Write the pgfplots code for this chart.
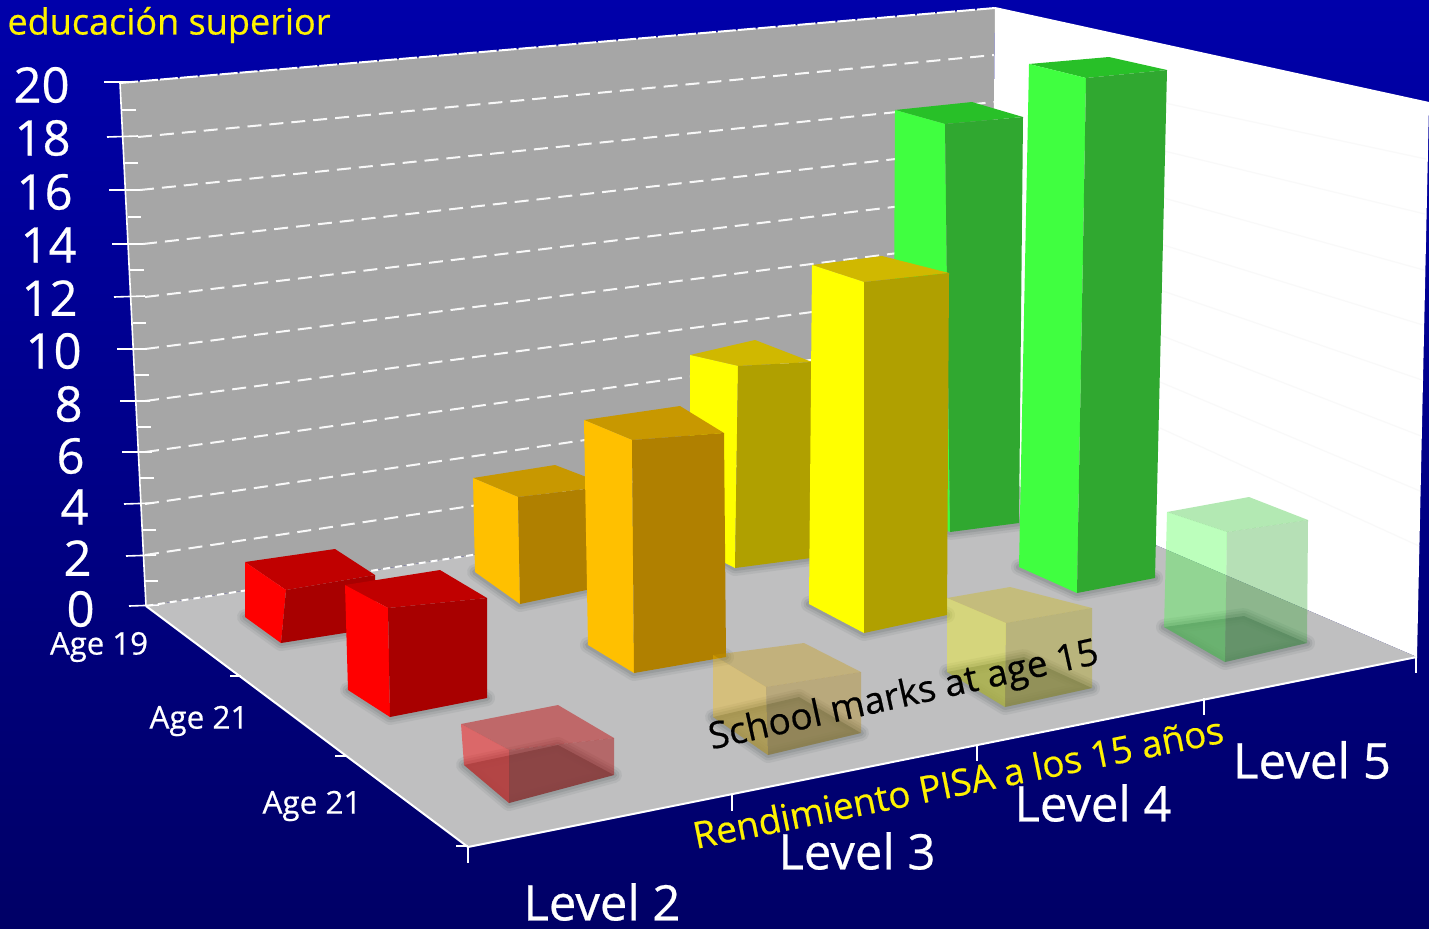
\documentclass[border=0pt]{standalone}
\usepackage{fontspec}
\setmainfont[FakeBold=0.5]{Open Sans}
\usepackage{graphicx}
\usepackage{pgfplots}
\pgfplotsset{compat=1.18}
\definecolor{bgT}{HTML}{0000AA}
\definecolor{bgM}{HTML}{0000BE}
\definecolor{bgB}{HTML}{000066}
\definecolor{wallc}{HTML}{A6A6A6}
\definecolor{floorc}{HTML}{BFBFC0}
\definecolor{shc}{HTML}{6E7878}
\definecolor{rL}{HTML}{FF0000}\definecolor{rR}{HTML}{A80000}\definecolor{rT}{HTML}{C00000}
\definecolor{oL}{HTML}{FFC000}\definecolor{oR}{HTML}{B08000}\definecolor{oT}{HTML}{C89800}
\definecolor{yL}{HTML}{FFFF00}\definecolor{yR}{HTML}{B0A000}\definecolor{yT}{HTML}{D0B800}
\definecolor{gL}{HTML}{40FF40}\definecolor{gR}{HTML}{30A830}\definecolor{gT}{HTML}{28C028}
% one quadrilateral of the drawing, in picture coordinates
\newcommand\face[6]{\addplot[fill=#1,draw=none,fill opacity=#2] coordinates {(#3)(#4)(#5)(#6)} --cycle;}
\newcommand\seg[5][]{\addplot[draw=#2,line width=#3,#1] coordinates {(#4)(#5)};}
% soft shadow round the foot of a bar
\newcommand\shadow[4]{%
  \addplot[draw=shc,line width=8pt,line join=round,draw opacity=.13] coordinates {(#1)(#2)(#3)(#4)} --cycle;
  \addplot[draw=shc,line width=5.5pt,line join=round,draw opacity=.18] coordinates {(#1)(#2)(#3)(#4)} --cycle;
  \addplot[draw=shc,line width=3pt,line join=round,draw opacity=.25] coordinates {(#1)(#2)(#3)(#4)} --cycle;}
% bar: colour stem, opacity, TL, back, R, inner, BL, foot, RB
\newcommand\barbox[9]{%
  \face{#1T}{#2}{#3}{#4}{#5}{#6}
  \face{#1L}{#2}{#3}{#6}{#8}{#7}
  \face{#1R}{#2}{#6}{#5}{#9}{#8}}
\newcommand\T[6]{\node[text=#5,rotate=#3,inner sep=0pt] at (axis cs:#1,#2) {\resizebox{\dimexpr#4pt/2\relax}{!}{#6}};}
\newcommand\ytl[3]{\node[text=white,anchor=east,inner sep=0pt,font=\fontsize{24.5}{26}\selectfont] at (axis cs:#1,#2) {#3};}
\begin{document}
\begin{tikzpicture}
\begin{axis}[scale only axis,width=714.5pt,height=464pt,xmin=0,xmax=1429,ymin=0,ymax=928,y dir=reverse,hide axis]
% background
\addplot[draw=none,top color=bgT,middle color=bgM,bottom color=bgB] coordinates {(0,0)(1429,0)(1429,928)(0,928)} --cycle;
% walls and floor
\face{wallc}{1}{120,83}{995,8}{990,474}{146,606}
\face{white}{1}{995,8}{1429,103}{1417,657}{990,474}
\face{floorc}{1}{146,606}{990,474}{1417,657}{468,847}
% faint grid on the right wall
\seg{black!2.5}{.6pt}{1160,102}{1426,159}
\seg{black!2.5}{.6pt}{1160,150}{1425,214}
\seg{black!2.5}{.6pt}{1160,197}{1424,270}
\seg{black!2.5}{.6pt}{1160,244}{1423,325}
\seg{black!2.5}{.6pt}{1160,290}{1422,380}
\seg{black!2.5}{.6pt}{1160,335}{1421,436}
\seg{black!2.5}{.6pt}{1160,382}{1420,491}
\seg{black!2.5}{.6pt}{1160,428}{1419,546}
% dashed grid on the back wall
\seg[dash pattern=on 7pt off 4pt]{white!92!wallc}{1pt}{138,137}{994,55}
\seg[dash pattern=on 7pt off 4pt]{white!92!wallc}{1pt}{140,190}{994,102}
\seg[dash pattern=on 7pt off 4pt]{white!92!wallc}{1pt}{143,244}{993,148}
\seg[dash pattern=on 7pt off 4pt]{white!92!wallc}{1pt}{145,297}{993,195}
\seg[dash pattern=on 7pt off 4pt]{white!92!wallc}{1pt}{145,349}{992,241}
\seg[dash pattern=on 7pt off 4pt]{white!92!wallc}{1pt}{145,401}{992,288}
\seg[dash pattern=on 7pt off 4pt]{white!92!wallc}{1pt}{145,452}{991,335}
\seg[dash pattern=on 7pt off 4pt]{white!92!wallc}{1pt}{145,504}{991,381}
\seg[dash pattern=on 7pt off 4pt]{white!92!wallc}{1pt}{145,555}{990,428}
\seg[dash pattern=on 3.5pt off 2.5pt]{white}{1pt}{146,606}{990,474}
\seg[dash pattern=on 9pt off 1pt]{white}{1pt}{120,83}{995,8}
% edges of the box
\seg{white}{1pt}{995,8}{1429,103}
\seg{white}{.8pt}{120,83}{146,606}
\seg{white}{1pt}{146,606}{468,847}
\seg{white}{1pt}{468,847}{1417,657}
% major and minor ticks on the value axis
\seg{white}{.8pt}{104,82}{135,82}
\seg{white}{.8pt}{107,137}{138,136}
\seg{white}{.8pt}{109,190}{140,190}
\seg{white}{.8pt}{112,244}{143,244}
\seg{white}{.8pt}{114,297}{145,296}
\seg{white}{.8pt}{117,349}{147,349}
\seg{white}{.8pt}{120,401}{150,401}
\seg{white}{.8pt}{122,452}{152,452}
\seg{white}{.8pt}{124,504}{154,503}
\seg{white}{.8pt}{126,556}{156,555}
\seg{white}{.8pt}{129,606}{159,605}
\seg{white}{.8pt}{122,110}{136,110}
\seg{white}{.8pt}{125,163}{138,163}
\seg{white}{.8pt}{128,217}{141,217}
\seg{white}{.8pt}{130,270}{144,270}
\seg{white}{.8pt}{133,323}{146,323}
\seg{white}{.8pt}{135,375}{149,375}
\seg{white}{.8pt}{138,427}{151,427}
\seg{white}{.8pt}{140,478}{154,478}
\seg{white}{.8pt}{143,530}{156,530}
\seg{white}{.8pt}{145,581}{158,581}
% ticks on the floor
\seg{white}{.8pt}{230,676}{241,676}
\seg{white}{.8pt}{335,756}{346,756}
\seg{white}{.8pt}{456,846}{468,846}
\seg{white}{.8pt}{468,847}{468,863}
\seg{white}{.8pt}{732,795}{732,811}
\seg{white}{.8pt}{977,745}{977,761}
\seg{white}{.8pt}{1204,698}{1204,715}
\seg{white}{.8pt}{1416,657}{1416,673}
% shadows of the bars
\shadow{245,617}{336,603}{376,628}{281,643}
\shadow{475,572}{560,560}{610,585}{520,604}
\shadow{690,540}{760,530}{811,558}{735,568}
\shadow{893,500}{975,500}{1020,523}{950,532}
\shadow{348,690}{440,672}{487,698}{390,717}
\shadow{588,645}{680,630}{726,657}{634,673}
\shadow{809,604}{900,595}{947,615}{864,633}
\shadow{1019,567}{1100,555}{1155,578}{1077,593}
\shadow{464,765}{558,745}{614,775}{509,803}
\shadow{713,717}{799,697}{861,733}{768,755}
\shadow{947,672}{1024,657}{1092,688}{1005,707}
\shadow{1164,627}{1244,616}{1307,643}{1225,662}
% back row (Age 19)
\barbox{r}{1}{245,562}{335,549}{375,575}{286,590}{245,617}{281,643}{376,628}
\barbox{o}{1}{473,478}{555,465}{610,486}{518,497}{475,572}{520,604}{610,585}
\barbox{y}{1}{690,355}{755,340}{812,362}{738,366}{690,545}{735,568}{811,558}
\barbox{g}{1}{895,110}{972,102}{1023,117}{945,124}{893,500}{950,532}{1019,523}
% middle row (Age 21)
\barbox{r}{1}{345,585}{440,570}{487,598}{388,608}{348,690}{390,717}{487,698}
\barbox{o}{1}{584,420}{680,406}{724,433}{632,440}{588,645}{634,673}{726,657}
\barbox{y}{1}{812,265}{882,256}{949,273}{864,282}{809,604}{864,633}{947,615}
\barbox{g}{1}{1029,64}{1109,57}{1167,70}{1086,78}{1019,567}{1077,593}{1155,578}
% front row (Age 21), pale
\face{shc}{.9}{464,765}{558,745}{614,775}{509,803}
\face{shc}{.75}{713,717}{799,697}{861,733}{768,755}
\face{shc}{.75}{947,672}{1024,657}{1092,688}{1005,707}
\face{shc}{.75}{1164,627}{1244,616}{1307,643}{1225,662}
\barbox{r}{.45}{461,724}{558,705}{614,738}{509,750}{464,765}{509,803}{614,775}
\barbox{o}{.35}{713,655}{804,643}{861,672}{766,687}{713,717}{768,755}{861,733}
\barbox{y}{.35}{947,598}{1010,587}{1092,608}{1006,623}{947,672}{1005,707}{1092,688}
\barbox{g}{.35}{1167,512}{1249,497}{1308,520}{1227,532}{1164,627}{1225,662}{1307,643}
% texts
\T{169}{25}{0}{323}{yellow}{educación superior}
\ytl{70}{85}{20}\ytl{71}{138}{18}\ytl{73}{192}{16}\ytl{77}{245}{14}\ytl{78}{298}{12}
\ytl{82}{351}{10}\ytl{83}{404}{8}\ytl{85}{456}{6}\ytl{89}{507}{4}\ytl{92}{558}{2}\ytl{95}{609}{0}
\T{99}{647}{0}{98}{white}{Age 19}
\T{199}{721}{0}{99}{white}{Age 21}
\T{312}{806}{0}{99}{white}{Age 21}
\T{602}{902}{0}{157}{white}{Level 2}
\T{857}{851}{0}{157}{white}{Level 3}
\T{1093}{803}{0}{157}{white}{Level 4}
\T{1312}{760}{0}{158}{white}{Level 5}
\T{958}{782}{11.4}{540}{yellow}{Rendimiento PISA a los 15 años}
\T{904}{697}{12.5}{398}{black}{School marks at age 15}
\end{axis}
\end{tikzpicture}
\end{document}
